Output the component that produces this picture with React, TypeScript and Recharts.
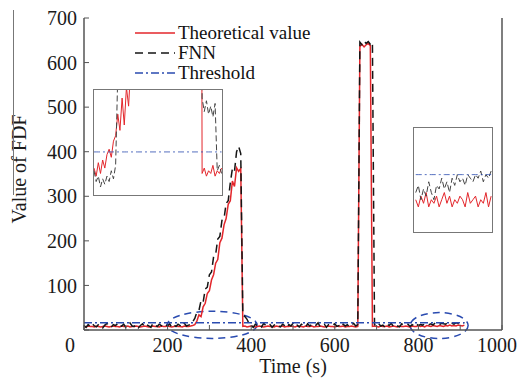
import React from 'react';
import { LineChart, Line, XAxis, YAxis, Legend, ReferenceArea } from 'recharts';

// ── Data ────────────────────────────────────────────────────
const STEP = 5; // sampling interval (s) of the main curves
const THRESHOLD = 16;

const THEORETICAL = [
  // 0 – 260 s
  8, 7, 9, 8, 8, 7, 9, 8, 7, 8,
  9, 8, 7, 8, 9, 8, 8, 7, 9, 8,
  8, 9, 7, 8, 8, 9, 8, 7, 8, 9,
  8, 7, 8, 9, 8, 8, 7, 9, 8, 8,
  9, 8, 7, 8, 9, 8, 8, 7, 9, 8,
  8, 9, 10,
  // 265 – 375 s
  12, 20, 34, 30, 52, 60, 82, 88, 112, 124, 150, 158, 196, 206, 236, 250, 282, 290, 334, 322, 364, 356, 362,
  // 380 – 655 s
  8, 9, 7, 8, 9, 8, 7, 8, 9, 8,
  7, 8, 9, 8, 8, 7, 9, 8, 8, 9,
  7, 8, 8, 9, 8, 7, 9, 8, 8, 7,
  9, 8, 8, 9, 7, 8, 8, 9, 8, 7,
  8, 9, 8, 8, 7, 9, 8, 8, 9, 7,
  8, 8, 9, 8, 7, 8,
  // 660 – 685 s
  636, 641, 635, 640, 643, 638,
  // 690 – 910 s
  8, 9, 8, 7, 9, 8, 8, 9, 7, 8,
  9, 8, 7, 9, 8, 8, 9, 8, 7, 9,
  8, 8, 10, 8, 9, 7, 10, 9, 8, 10,
  9, 8, 10, 9, 8, 10, 9, 11, 9, 10,
  9, 11, 10, 9, 11,
];

const FNN = [
  // 0 – 250 s
  10, 6, 12, 8, 14, 9, 7, 13, 10, 5,
  11, 15, 8, 6, 12, 10, 14, 7, 9, 13,
  6, 11, 16, 9, 8, 12, 5, 10, 14, 7,
  12, 9, 6, 15, 11, 8, 13, 10, 7, 12,
  9, 14, 6, 11, 8, 13, 10, 7, 15, 9,
  11,
  // 255 – 260 s
  12, 18,
  // 265 – 375 s
  26, 40, 44, 66, 62, 92, 96, 124, 130, 164, 170, 204, 210, 246, 250, 284, 290, 330, 362, 356, 400, 412, 396,
  // 380 – 655 s
  34, 30, 24, 14,
  10, 6, 13, 9, 12, 7, 15, 10, 8, 12,
  6, 11, 14, 9, 7, 13, 10, 5, 12, 9,
  15, 8, 11, 7, 13, 10, 6, 14, 9, 12,
  8, 11, 16, 7, 10, 13, 6, 12, 9, 11,
  14, 8, 10, 6, 13, 9, 12, 7, 11, 15,
  9, 12,
  // 660 – 690 s
  646, 640, 648, 643, 647, 641, 645,
  // 695 – 910 s
  12, 8, 14, 9, 11, 6, 13, 10, 15, 8,
  12, 9, 7, 14, 10, 11, 13, 8, 12, 9,
  14, 10, 12, 11, 13, 15, 12, 14, 11, 16,
  13, 12, 15, 14, 13, 16, 14, 15, 13, 16,
  15, 14, 17, 16,
];

const X_TICKS = [0, 100, 200, 300, 400, 500, 600, 700, 800, 900, 1000];
const Y_TICKS = [0, 100, 200, 300, 400, 500, 600, 700];

// dashed ellipses marking the zoomed regions (data coords)
const HIGHLIGHTS = [
  { x1: 199, x2: 414, y1: -19, y2: 42 },
  { x1: 780, x2: 919, y1: -19, y2: 39 },
];

// inset 1: zoom on 250 – 398 s
const INSET1_T = [
  250, 252.5, 255, 257.5, 260, 262.5, 265, 267.5, 270, 272.5, 275, 277.5, 280, 282.5, 285, 287.5, 290, 292.5,
  300, 330, 360, 370, 372.5, 375, 377.5, 380, 382.5, 385, 387.5, 390, 392.5, 395, 397.5,
];
const INSET1_THEO = [
  10, 7, 12, 8, 13, 10, 15, 17, 14, 20, 22, 30, 24, 36, 26, 40, 33, 48,
  92, 220, 348, 370, 360, 8, 10, 7, 9, 8, 11, 7, 9, 8, 10,
];
const INSET1_FNN = [
  9, 5, 7, 3, 6, 4, 7, 5, 9, 6, 11, 45, 50, 55, 62, 66, 75, 80,
  112, 232, 372, 410, 402, 36, 31, 35, 30, 33, 29, 34, 9, 11, 8,
];

// inset 2: zoom on 820 – 907 s
const INSET2_T = [
  820, 823, 826, 829, 832, 835, 838, 841, 844, 847, 850, 853, 856, 859, 862,
  865, 868, 871, 874, 877, 880, 883, 886, 889, 892, 895, 898, 901, 904, 907,
];
const INSET2_THEO = [9, 7, 10, 8, 11, 7, 9, 8, 10, 7, 9, 11, 8, 10, 7, 9, 8, 10, 9, 7, 11, 8, 9, 10, 7, 9, 8, 11, 7, 10];
const INSET2_FNN = [11, 13, 9, 12, 10, 14, 11, 9, 13, 12, 15, 12, 14, 11, 15, 13, 16, 14, 15, 13, 16, 15, 14, 16, 15, 17, 14, 16, 15, 17];

// ── Styles ──────────────────────────────────────────────────
const SERIF = '"Liberation Serif", "Times New Roman", serif';
const RED = '#e3262b';
const BLACK = '#151515';
const BLUE = '#2a4bb0';
const AXIS = '#555555';

const SERIES_ORDER = ['theoretical', 'fnn', 'threshold'];
const SERIES_STYLE: Record<string, { color: string; dash?: string }> = {
  theoretical: { color: RED },
  fnn: { color: BLACK, dash: '8 5' },
  threshold: { color: BLUE, dash: '8 3 2 3' },
};

const mainRows = THEORETICAL.map((v, i) => ({
  t: i * STEP,
  theoretical: v,
  fnn: FNN[i],
  threshold: THRESHOLD,
}));

function TimeTick({ x, y, payload }: any) {
  const v = payload.value;
  if (v % 200 !== 0) return <g />;
  const shift = v === 0 ? -14 : v === 1000 ? -5 : 0;
  return (
    <text x={x + shift} y={y} dy="0.71em" textAnchor="middle" fontFamily={SERIF} fontSize={20} fill="#1a1a1a">
      {v}
    </text>
  );
}

function ValueLabel({ viewBox }: any) {
  const cx = 19;
  const cy = viewBox.y + viewBox.height / 2 - 5;
  return (
    <text
      x={cx}
      y={cy}
      transform={`rotate(-90 ${cx} ${cy})`}
      textAnchor="middle"
      dominantBaseline="central"
      fontFamily={SERIF}
      fontSize={20}
      fill="#1a1a1a"
    >
      Value of FDF
    </text>
  );
}

function EllipseShape(props: any) {
  const { x, y, width, height } = props;
  return (
    <ellipse
      cx={x + width / 2}
      cy={y + height / 2}
      rx={Math.abs(width) / 2}
      ry={Math.abs(height) / 2}
      fill="none"
      stroke={BLUE}
      strokeWidth={1.5}
      strokeDasharray="7 5"
    />
  );
}

function LegendBox({ payload }: any) {
  const items = [...(payload || [])].sort(
    (a: any, b: any) => SERIES_ORDER.indexOf(a.dataKey) - SERIES_ORDER.indexOf(b.dataKey)
  );
  return (
    <div style={{ fontFamily: SERIF, fontSize: 19, color: '#111' }}>
      {items.map((entry: any) => {
        const s = SERIES_STYLE[entry.dataKey];
        return (
          <div key={entry.dataKey} style={{ display: 'flex', alignItems: 'center', height: 20 }}>
            <svg width={42} height={10}>
              <line x1={0} y1={5} x2={40} y2={5} stroke={s.color} strokeWidth={1.5} strokeDasharray={s.dash} />
            </svg>
            <span style={{ marginLeft: 1, lineHeight: '20px' }}>{entry.value}</span>
          </div>
        );
      })}
    </div>
  );
}

// ── Inset panel ─────────────────────────────────────────────
function Inset({
  left,
  top,
  width,
  height,
  times,
  theo,
  fnn,
  xDomain,
  xTicks,
  yMax,
  yTicks,
}: {
  left: number;
  top: number;
  width: number;
  height: number;
  times: number[];
  theo: number[];
  fnn: number[];
  xDomain: [number, number];
  xTicks: number[];
  yMax: number;
  yTicks: number[];
}) {
  const rows = times.map((t, i) => ({ t, theoretical: theo[i], fnn: fnn[i], threshold: THRESHOLD }));
  return (
    <div
      style={{
        position: 'absolute',
        left,
        top,
        width,
        height,
        border: '1px solid #777',
        background: '#fff',
        boxSizing: 'border-box',
      }}
    >
      <LineChart width={width - 2} height={height - 2} data={rows} margin={{ top: 0, right: 0, bottom: 0, left: 0 }}>
        <XAxis
          dataKey="t"
          type="number"
          domain={xDomain}
          ticks={xTicks}
          allowDataOverflow
          height={0}
          tick={false}
          tickSize={-3}
          axisLine={false}
          tickLine={{ stroke: '#777' }}
        />
        <XAxis
          xAxisId="top"
          orientation="top"
          type="number"
          domain={xDomain}
          ticks={xTicks}
          height={0}
          tick={false}
          tickSize={-3}
          axisLine={false}
          tickLine={{ stroke: '#777' }}
        />
        <YAxis domain={[0, yMax]} allowDataOverflow hide />
        <YAxis
          yAxisId="r"
          orientation="right"
          domain={[0, yMax]}
          ticks={yTicks}
          width={0}
          tick={false}
          tickSize={-3}
          axisLine={false}
          tickLine={{ stroke: '#777' }}
        />
        <Line type="linear" dataKey="theoretical" stroke={RED} strokeWidth={1} dot={false} isAnimationActive={false} />
        <Line
          type="linear"
          dataKey="fnn"
          stroke="#444"
          strokeWidth={1}
          strokeDasharray="6 3"
          dot={false}
          isAnimationActive={false}
        />
        <Line
          type="linear"
          dataKey="threshold"
          stroke={BLUE}
          strokeWidth={0.8}
          strokeDasharray="6 3 2 3"
          dot={false}
          isAnimationActive={false}
        />
      </LineChart>
    </div>
  );
}

export default function App() {
  const axisLine = { stroke: AXIS, strokeWidth: 1.5 };
  return (
    <div style={{ position: 'absolute', left: 0, top: 0, width: 521, height: 380, background: '#fff' }}>
      <LineChart width={521} height={380} data={mainRows} margin={{ top: 18, right: 18, bottom: 20, left: 24 }}>
        <XAxis
          dataKey="t"
          type="number"
          domain={[0, 1000]}
          ticks={X_TICKS}
          height={30}
          tickSize={-5}
          tickMargin={13}
          axisLine={axisLine}
          tickLine={{ stroke: AXIS }}
          tick={<TimeTick />}
          label={{
            value: 'Time (s)',
            position: 'bottom',
            offset: -1,
            fontFamily: SERIF,
            fontSize: 20,
            fill: '#1a1a1a',
          }}
        />
        <XAxis
          xAxisId="top"
          orientation="top"
          type="number"
          domain={[0, 1000]}
          ticks={X_TICKS}
          height={0}
          tickSize={-5}
          tick={false}
          axisLine={axisLine}
          tickLine={{ stroke: AXIS }}
        />
        <YAxis
          domain={[0, 700]}
          ticks={Y_TICKS}
          width={60}
          tickSize={-5}
          tickMargin={12}
          axisLine={axisLine}
          tickLine={{ stroke: AXIS }}
          tickFormatter={(v: number) => (v === 0 ? '' : String(v))}
          tick={{ fontFamily: SERIF, fontSize: 20, fill: '#1a1a1a' }}
          label={<ValueLabel />}
        />
        <YAxis
          yAxisId="r"
          orientation="right"
          domain={[0, 700]}
          ticks={Y_TICKS}
          width={1}
          tickSize={-5}
          tick={false}
          axisLine={axisLine}
          tickLine={{ stroke: AXIS }}
        />
        <Legend
          layout="vertical"
          align="center"
          verticalAlign="middle"
          content={<LegendBox />}
          wrapperStyle={{ left: 135, top: 23, width: 'auto' }}
        />
        <Line
          type="linear"
          dataKey="theoretical"
          name="Theoretical value"
          stroke={RED}
          strokeWidth={1.5}
          dot={false}
          isAnimationActive={false}
        />
        <Line
          type="linear"
          dataKey="fnn"
          name="FNN"
          stroke={BLACK}
          strokeWidth={1.5}
          strokeDasharray={SERIES_STYLE.fnn.dash}
          dot={false}
          isAnimationActive={false}
        />
        <Line
          type="linear"
          dataKey="threshold"
          name="Threshold"
          stroke={BLUE}
          strokeWidth={1.5}
          strokeDasharray={SERIES_STYLE.threshold.dash}
          dot={false}
          isAnimationActive={false}
        />
        {HIGHLIGHTS.map((h, i) => (
          <ReferenceArea key={i} x1={h.x1} x2={h.x2} y1={h.y1} y2={h.y2} ifOverflow="visible" shape={<EllipseShape />} />
        ))}
      </LineChart>
      <Inset
        left={93}
        top={89}
        width={130}
        height={107}
        times={INSET1_T}
        theo={INSET1_THEO}
        fnn={INSET1_FNN}
        xDomain={[250, 398]}
        xTicks={[300, 350]}
        yMax={39}
        yTicks={[]}
      />
      <Inset
        left={413}
        top={127}
        width={80}
        height={106}
        times={INSET2_T}
        theo={INSET2_THEO}
        fnn={INSET2_FNN}
        xDomain={[818, 908]}
        xTicks={[860, 884]}
        yMax={29}
        yTicks={[10, 15, 20, 25]}
      />
      <div style={{ position: 'absolute', left: 13, top: 10, width: 1, height: 185, background: '#777' }} />
    </div>
  );
}
